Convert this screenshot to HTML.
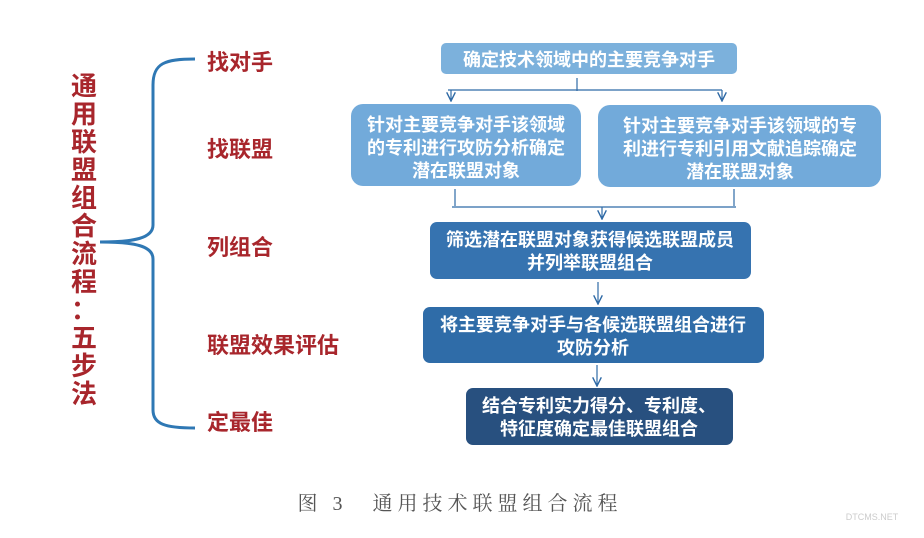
<!DOCTYPE html>
<html><head><meta charset="utf-8"><style>
html,body{margin:0;padding:0;background:#fff;}
svg{display:block;}
</style></head><body>
<svg width="924" height="538" viewBox="0 0 924 538" xmlns="http://www.w3.org/2000/svg" font-family="'Liberation Sans','Noto Sans CJK SC',sans-serif">
<defs>
<marker id="a" viewBox="0 0 10 10" refX="9" refY="5" markerWidth="9" markerHeight="9" orient="auto"><path d="M1,1 L9,5 L1,9" fill="none" stroke="#2f6aa6" stroke-width="1.3"/></marker>
</defs>
<g fill="#a8262c" font-weight="bold" font-size="26" text-anchor="middle">
<text x="84" y="95">通</text><text x="84" y="123">用</text><text x="84" y="151">联</text><text x="84" y="179">盟</text><text x="84" y="207">组</text><text x="84" y="235">合</text><text x="84" y="263">流</text><text x="84" y="291">程</text><text x="84" y="319">：</text><text x="84" y="347">五</text><text x="84" y="375">步</text><text x="84" y="403">法</text>
</g>
<path d="M195,59 C165,59 153,63 153,85 L153,225 C153,238 135,242 100,242 C135,242 153,246 153,259 L153,410 C153,424 165,428 195,428" fill="none" stroke="#2f78b4" stroke-width="3"/>
<g fill="#a8262c" font-weight="bold" font-size="22">
<text x="207" y="70">找对手</text>
<text x="207" y="157">找联盟</text>
<text x="207" y="255">列组合</text>
<text x="207" y="353">联盟效果评估</text>
<text x="207" y="430">定最佳</text>
</g>
<rect x="441" y="43" width="296" height="31" rx="5" fill="#7cb1dc"/>
<rect x="351" y="104" width="230" height="82" rx="12" fill="#72aada"/>
<rect x="598" y="105" width="283" height="82" rx="12" fill="#72aada"/>
<rect x="430" y="222" width="321" height="57" rx="7" fill="#3673b0"/>
<rect x="423" y="307" width="341" height="56" rx="7" fill="#2f6ca8"/>
<rect x="466" y="388" width="267" height="57" rx="7" fill="#28507f"/>
<g fill="#fff" font-weight="bold" font-size="18" text-anchor="middle">
<text x="589" y="66">确定技术领域中的主要竞争对手</text>
<text x="466" y="131">针对主要竞争对手该领域</text>
<text x="466" y="154">的专利进行攻防分析确定</text>
<text x="466" y="177">潜在联盟对象</text>
<text x="740" y="132">针对主要竞争对手该领域的专</text>
<text x="740" y="155">利进行专利引用文献追踪确定</text>
<text x="740" y="178">潜在联盟对象</text>
<text x="590" y="246">筛选潜在联盟对象获得候选联盟成员</text>
<text x="590" y="269">并列举联盟组合</text>
<text x="593" y="331">将主要竞争对手与各候选联盟组合进行</text>
<text x="593" y="354">攻防分析</text>
<text x="599" y="412">结合专利实力得分、专利度、</text>
<text x="599" y="435">特征度确定最佳联盟组合</text>
</g>
<g stroke="#2f6aa6" stroke-width="1.2" fill="none">
<path d="M577,78 V91"/>
<path d="M448,90 H722"/>
<path d="M451,90 V101" marker-end="url(#a)"/>
<path d="M722,90 V101" marker-end="url(#a)"/>
<path d="M455,189 V206"/><path d="M734,189 V206"/>
<path d="M452,207 H736"/>
<path d="M602,207 V219" marker-end="url(#a)"/>
<path d="M598,282 V304" marker-end="url(#a)"/>
<path d="M597,365 V386" marker-end="url(#a)"/>
</g>
<text x="460" y="510" text-anchor="middle" font-family="'Liberation Serif','Noto Serif CJK SC',serif" font-size="20" fill="#555" letter-spacing="5">图 3　通用技术联盟组合流程</text>
<text x="872" y="520" text-anchor="middle" font-size="9" fill="#ccc">DTCMS.NET</text>
</svg>
</body></html>
